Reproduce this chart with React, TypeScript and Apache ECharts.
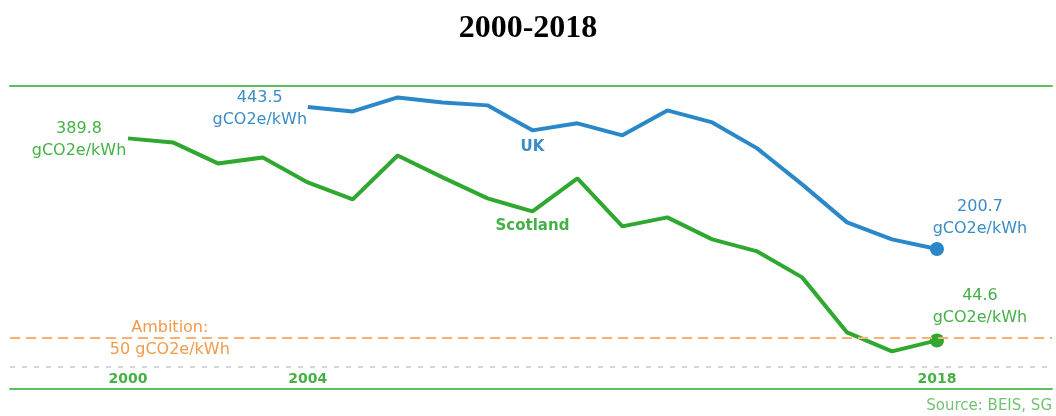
import React, { useEffect, useRef } from "react";
import * as echarts from "echarts";

const years = [2000, 2001, 2002, 2003, 2004, 2005, 2006, 2007, 2008, 2009, 2010, 2011, 2012, 2013, 2014, 2015, 2016, 2017, 2018];
const scotland = [389.8, 382.9, 347.0, 357.2, 314.6, 285.5, 360.6, 323.1, 287.2, 265.0, 321.4, 239.4, 254.8, 217.2, 196.7, 152.3, 58.3, 25.8, 44.6];
const ukYears = [2004, 2005, 2006, 2007, 2008, 2009, 2010, 2011, 2012, 2013, 2014, 2015, 2016, 2017, 2018];
const uk = [443.5, 435.9, 459.8, 451.3, 446.2, 403.5, 415.5, 395.0, 437.6, 417.1, 372.7, 311.2, 246.3, 217.2, 200.7];
const tickYears = [2000, 2004, 2018];
const ambition = 50;
const unit = "gCO2e/kWh";

const GREEN = "#2ea82e";
const GREEN_TXT = "#45b045";
const BLUE = "#2b88c8";
const BLUE_TXT = "#3a8cc6";
const ORANGE = "#f8b077";
const ORANGE_TXT = "#f29a48";
const FONT = "DejaVu Sans";

export default function App() {
  const ref = useRef<HTMLDivElement>(null);
  useEffect(() => {
    document.body.style.margin = "0";
    const chart = echarts.init(ref.current!, undefined, { renderer: "svg" });
    const xMin = 1997.374;
    const xMax = 2020.56;
    const valLabel = (color: string, offset: number[]) => ({
      show: true,
      position: "inside",
      offset,
      align: "center",
      verticalAlign: "middle",
      color,
      fontFamily: FONT,
      fontSize: 16,
      lineHeight: 22,
    });
    const nameLabel = (text: string, color: string, offset: number[]) => ({
      show: true,
      position: "inside",
      offset,
      formatter: text,
      color,
      fontFamily: FONT,
      fontSize: 15,
      fontWeight: "bold",
    });
    const scotData = scotland.map((v, i) => {
      const item: any = { value: [years[i], v] };
      if (i === 0) item.label = { ...valLabel(GREEN_TXT, [-49, 0]), formatter: `${v}\n${unit}` };
      if (years[i] === 2009) item.label = nameLabel("Scotland", GREEN_TXT, [0, 14]);
      if (i === scotland.length - 1) {
        item.symbolSize = 14;
        item.label = { ...valLabel(GREEN_TXT, [43, -35]), formatter: `${v}\n${unit}` };
      }
      return item;
    });
    const ukData = uk.map((v, i) => {
      const item: any = { value: [ukYears[i], v] };
      if (i === 0) item.label = { ...valLabel(BLUE_TXT, [-48, 1]), formatter: `${v}\n${unit}` };
      if (ukYears[i] === 2009) item.label = nameLabel("UK", BLUE_TXT, [0, 16]);
      if (i === uk.length - 1) {
        item.symbolSize = 14;
        item.label = { ...valLabel(BLUE_TXT, [43, -33]), formatter: `${v}\n${unit}` };
      }
      return item;
    });
    chart.setOption({
      animation: false,
      title: {
        text: "2000-2018",
        left: "center",
        top: 5,
        textStyle: { fontFamily: "Liberation Serif", fontSize: 32, fontWeight: "bold", color: "#000" },
      },
      grid: { left: 10, right: 4, top: 86, bottom: 27 },
      xAxis: [
        {
          type: "value",
          min: xMin,
          max: xMax,
          position: "bottom",
          axisLine: { show: true, onZero: false, lineStyle: { color: "#5cbf5c", width: 2 } },
          axisTick: { show: false },
          splitLine: { show: false },
          axisLabel: {
            inside: true,
            margin: 4,
            customValues: tickYears,
            formatter: (v: number) => String(Math.round(v)),
            color: GREEN_TXT,
            fontFamily: FONT,
            fontSize: 14,
            fontWeight: "bold",
          },
        },
        {
          type: "value",
          min: xMin,
          max: xMax,
          position: "top",
          axisLine: { show: true, onZero: false, lineStyle: { color: "#5cbf5c", width: 2 } },
          axisTick: { show: false },
          splitLine: { show: false },
          axisLabel: { show: false },
        },
      ],
      yAxis: { type: "value", min: -38.4, max: 479.3, show: false, splitLine: { show: false } },
      series: [
        {
          type: "line",
          name: "Scotland",
          data: scotData,
          symbol: "circle",
          symbolSize: 0,
          lineStyle: { color: GREEN, width: 4 },
          itemStyle: { color: GREEN },
          z: 3,
          markLine: {
            silent: true,
            symbol: "none",
            label: { show: false },
            data: [
              { yAxis: ambition, lineStyle: { color: ORANGE, type: [10, 6], width: 2 } },
              { yAxis: 0, lineStyle: { color: "#d3d7db", type: [5, 7], width: 2 } },
            ],
          },
          markPoint: {
            silent: true,
            symbol: "circle",
            symbolSize: 0,
            data: [
              {
                coord: [2000.93, ambition],
                label: {
                  show: true,
                  position: "inside",
                  formatter: `Ambition:\n${ambition} ${unit}`,
                  align: "center",
                  verticalAlign: "middle",
                  color: ORANGE_TXT,
                  fontFamily: FONT,
                  fontSize: 16,
                  lineHeight: 22,
                },
              },
            ],
          },
        },
        {
          type: "line",
          name: "UK",
          data: ukData,
          symbol: "circle",
          symbolSize: 0,
          lineStyle: { color: BLUE, width: 4 },
          itemStyle: { color: BLUE },
          z: 3,
        },
      ],
      graphic: [
        {
          type: "text",
          right: 4,
          top: 397,
          style: { text: "Source: BEIS, SG", fill: "#72c272", font: `15px "${FONT}"` },
        },
      ],
    });
    return () => chart.dispose();
  }, []);
  return <div ref={ref} style={{ position: "fixed", left: 0, top: 0, width: 1056, height: 416 }} />;
}
